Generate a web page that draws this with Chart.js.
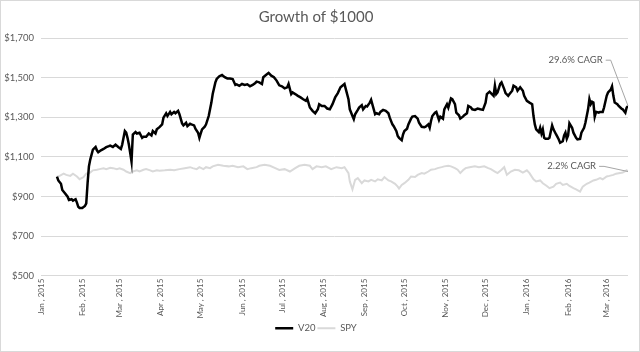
<!DOCTYPE html>
<html>
<head>
<meta charset="utf-8">
<script src="https://cdn.jsdelivr.net/npm/chart.js@4.4.0/dist/chart.umd.min.js"></script>
<style>
    html, body { margin: 0; padding: 0; background: #fff; }
    #wrap { width: 640px; height: 352px; position: relative; }
</style>
</head>
<body>
<div id="wrap"><canvas id="chart"></canvas></div>
<script>
// days counted from Jan 1, 2015
const monthTicks = [0, 31, 59, 90, 120, 151, 181, 212, 243, 273, 304, 334, 365, 396, 425];
const monthLabels = ['Jan , 2015', 'Feb , 2015', 'Mar , 2015', 'Apr , 2015', 'May , 2015', 'Jun , 2015',
    'Jul , 2015', 'Aug , 2015', 'Sep , 2015', 'Oct , 2015', 'Nov , 2015', 'Dec , 2015',
    'Jan , 2016', 'Feb , 2016', 'Mar , 2016'];

const v20Days = [
    12, 13, 15, 16, 18, 20, 21, 23, 24, 26,
    27, 28, 29, 31, 33, 34, 35, 36, 37, 38,
    39, 41, 42, 43, 45, 47, 49, 51, 52, 54,
    56, 58, 60, 61, 63, 64, 65, 66, 67, 68,
    69, 71, 72, 74, 76, 77, 79, 81, 83, 84,
    86, 87, 89, 91, 92, 94, 95, 97, 98, 100,
    101, 103, 104, 106, 107, 109, 110, 112, 113, 115,
    116, 118, 119, 120, 121, 123, 124, 126, 127, 128,
    129, 131, 132, 134, 136, 138, 140, 142, 144, 146,
    147, 149, 151, 153, 155, 157, 159, 161, 162, 164,
    166, 167, 169, 171, 173, 175, 177, 179, 181, 183,
    185, 186, 188, 189, 191, 193, 195, 197, 199, 200,
    202, 204, 206, 208, 209, 211, 213, 215, 217, 219,
    221, 223, 225, 228, 229, 231, 232, 234, 235, 236,
    238, 239, 241, 242, 244, 245, 247, 248, 250, 251,
    252, 254, 255, 257, 259, 261, 262, 264, 265, 267,
    268, 269, 271, 272, 273, 275, 276, 278, 279, 281,
    283, 284, 286, 288, 289, 291, 292, 293, 294, 296,
    297, 299, 300, 302, 303, 305, 306, 308, 309, 311,
    312, 314, 315, 317, 318, 320, 321, 323, 324, 326,
    328, 330, 332, 334, 335, 337, 338, 340, 341, 342,
    343, 345, 346, 348, 349, 351, 352, 354, 355, 357,
    358, 360, 362, 363, 365, 367, 369, 370, 371, 372,
    374, 375, 376, 377, 378, 379, 381, 382, 384, 385,
    387, 388, 389, 390, 392, 393, 394, 395, 396, 397,
    399, 400, 402, 403, 405, 406, 408, 409, 411, 412,
    413, 414, 415, 416, 417, 419, 420, 422, 423, 425,
    426, 428, 429, 430, 431, 433, 434, 436, 437, 439,
    440, 441
];
const v20Values = [
    1000, 981, 964, 933, 916, 899, 882, 886, 879, 886,
    869, 848, 842, 842, 852, 865, 967, 1052, 1086, 1111,
    1137, 1150, 1133, 1123, 1133, 1140, 1149, 1154, 1157, 1150,
    1162, 1150, 1140, 1162, 1230, 1222, 1196, 1162, 1120, 1076,
    1213, 1225, 1218, 1222, 1196, 1201, 1201, 1218, 1208, 1230,
    1218, 1239, 1250, 1264, 1298, 1320, 1306, 1327, 1315, 1327,
    1320, 1332, 1315, 1269, 1259, 1272, 1255, 1267, 1264, 1259,
    1242, 1222, 1196, 1218, 1239, 1252, 1264, 1306, 1340, 1374,
    1417, 1476, 1493, 1507, 1513, 1502, 1496, 1496, 1493, 1463,
    1466, 1459, 1468, 1463, 1466, 1456, 1463, 1473, 1480, 1476,
    1468, 1502, 1513, 1524, 1510, 1502, 1485, 1461, 1456, 1446,
    1451, 1468, 1417, 1425, 1417, 1408, 1400, 1391, 1383, 1395,
    1349, 1332, 1320, 1340, 1366, 1357, 1357, 1344, 1340, 1366,
    1400, 1422, 1451, 1468, 1442, 1391, 1340, 1306, 1290, 1315,
    1337, 1349, 1361, 1340, 1357, 1354, 1374, 1388, 1340, 1315,
    1320, 1315, 1327, 1337, 1332, 1320, 1298, 1264, 1255, 1230,
    1205, 1196, 1184, 1213, 1230, 1242, 1264, 1293, 1303, 1306,
    1293, 1272, 1252, 1250, 1252, 1264, 1247, 1281, 1306, 1323,
    1327, 1286, 1303, 1293, 1340, 1366, 1349, 1395, 1391, 1366,
    1323, 1310, 1293, 1303, 1310, 1320, 1357, 1349, 1340, 1337,
    1344, 1340, 1337, 1374, 1417, 1429, 1422, 1408, 1459, 1417,
    1425, 1468, 1476, 1442, 1422, 1408, 1417, 1434, 1459, 1451,
    1434, 1451, 1434, 1408, 1383, 1374, 1366, 1306, 1264, 1239,
    1225, 1247, 1218, 1239, 1196, 1191, 1191, 1196, 1259, 1239,
    1213, 1201, 1188, 1171, 1179, 1208, 1222, 1191, 1208, 1269,
    1247, 1222, 1196, 1188, 1191, 1222, 1247, 1272, 1340, 1391,
    1366, 1378, 1374, 1303, 1327, 1323, 1327, 1327, 1349, 1408,
    1425, 1439, 1456, 1408, 1374, 1366, 1357, 1344, 1340, 1323,
    1349, 1357
];

const spyDays = [
    12, 14, 17, 19, 22, 24, 27, 29, 32, 34,
    37, 39, 42, 44, 47, 49, 52, 54, 57, 59,
    62, 64, 67, 69, 72, 74, 77, 79, 82, 84,
    87, 89, 93, 97, 100, 104, 108, 112, 114, 117,
    119, 122, 124, 127, 129, 133, 137, 141, 144, 148,
    152, 155, 158, 162, 164, 168, 172, 176, 179, 183,
    187, 191, 194, 198, 202, 204, 207, 211, 214, 218,
    222, 226, 228, 231, 232, 234, 236, 238, 241, 243,
    246, 248, 251, 253, 256, 258, 261, 263, 266, 268,
    269, 271, 273, 276, 278, 281, 283, 286, 288, 291,
    293, 296, 298, 301, 303, 306, 308, 311, 313, 315,
    317, 319, 322, 326, 329, 333, 336, 338, 341, 343,
    346, 348, 350, 353, 356, 359, 362, 365, 367, 370,
    372, 375, 377, 380, 382, 385, 387, 390, 392, 395,
    397, 400, 402, 405, 407, 410, 412, 415, 417, 420,
    422, 425, 427, 430, 432, 435, 437, 440, 441
];
const spyValues = [
    1000, 1004, 1015, 1009, 1004, 1015, 1001, 987, 998, 1015,
    1021, 1032, 1035, 1038, 1042, 1038, 1045, 1043, 1038, 1042,
    1035, 1026, 1018, 1026, 1032, 1026, 1035, 1038, 1032, 1026,
    1032, 1030, 1032, 1035, 1032, 1038, 1043, 1048, 1043, 1038,
    1048, 1038, 1048, 1043, 1052, 1060, 1055, 1052, 1055, 1048,
    1052, 1038, 1043, 1048, 1055, 1060, 1055, 1043, 1034, 1038,
    1026, 1043, 1055, 1060, 1055, 1038, 1052, 1048, 1052, 1038,
    1048, 1043, 1048, 1018, 976, 936, 984, 993, 967, 981,
    976, 984, 976, 987, 981, 998, 981, 976, 964, 950,
    940, 958, 967, 984, 1001, 998, 1009, 1018, 1015, 1026,
    1035, 1038, 1043, 1048, 1052, 1055, 1052, 1043, 1035, 1018,
    1032, 1043, 1048, 1052, 1048, 1052, 1043, 1038, 1026, 1018,
    1035, 1048, 1009, 1026, 1035, 1032, 1021, 1032, 1018, 987,
    976, 981, 967, 953, 942, 950, 964, 970, 958, 964,
    953, 942, 936, 925, 950, 964, 970, 981, 984, 993,
    987, 1001, 1004, 1009, 1015, 1018, 1021, 1032, 1026
];

const seriesNames = ['V20', 'SPY'];
const seriesColors = ['#000000', '#d9d9d9'];

// text labels placed next to the end of each line
const cagrNotes = [
    { text: '29.6% CAGR', series: 0, day: 422, value: 1588 },
    { text: '2.2% CAGR', series: 1, day: 417, value: 1052 }
];

const FONT = 'Lato, "Open Sans", sans-serif';
const TEXT_GREY = '#595959';

function toPoints(days, values) {
    return days.map((d, i) => ({ x: d, y: values[i] }));
}

function money(v) {
    return '$' + String(v).replace(/\B(?=(\d{3})+(?!\d))/g, ',');
}

const frame = {
    id: 'frame',
    beforeDraw(chart) {
        const ctx = chart.ctx;
        ctx.save();
        ctx.fillStyle = '#fff';
        ctx.fillRect(0, 0, chart.width, chart.height);
        ctx.restore();
    },
    afterDraw(chart) {
        const ctx = chart.ctx;
        ctx.save();
        ctx.strokeStyle = '#d9d9d9';
        ctx.lineWidth = 1;
        ctx.strokeRect(0.5, 0.5, chart.width - 1, chart.height - 1);
        ctx.restore();
    }
};

const cagrLabels = {
    id: 'cagrLabels',
    afterDatasetsDraw(chart) {
        const ctx = chart.ctx;
        const xs = chart.scales.x;
        const ys = chart.scales.y;
        ctx.save();
        ctx.font = '9.5px ' + FONT;
        ctx.fillStyle = TEXT_GREY;
        ctx.textAlign = 'right';
        ctx.textBaseline = 'middle';
        cagrNotes.forEach(note => {
            const tx = xs.getPixelForValue(note.day);
            const ty = ys.getPixelForValue(note.value);
            ctx.fillText(note.text, tx, ty);
            const pts = chart.getDatasetMeta(note.series).data;
            const last = pts[pts.length - 1];
            ctx.strokeStyle = '#a6a6a6';
            ctx.lineWidth = 1;
            ctx.beginPath();
            ctx.moveTo(tx + 3, ty);
            ctx.lineTo(tx + 8, ty);
            ctx.lineTo(last.x, last.y);
            ctx.stroke();
        });
        ctx.restore();
    }
};

new Chart(document.getElementById('chart'), {
    type: 'line',
    data: {
        datasets: [
            {
                label: seriesNames[0],
                data: toPoints(v20Days, v20Values),
                borderColor: seriesColors[0],
                backgroundColor: seriesColors[0],
                borderWidth: 2.5,
                pointRadius: 0,
                tension: 0
            },
            {
                label: seriesNames[1],
                data: toPoints(spyDays, spyValues),
                borderColor: seriesColors[1],
                backgroundColor: seriesColors[1],
                borderWidth: 2,
                pointRadius: 0,
                tension: 0
            }
        ]
    },
    options: {
        responsive: true,
        maintainAspectRatio: false,
        animation: false,
        devicePixelRatio: 1,
        layout: { padding: { left: 4, right: 12, top: 0, bottom: 9 } },
        scales: {
            x: {
                type: 'linear',
                min: 0,
                max: 441,
                afterBuildTicks: scale => {
                    scale.ticks = monthTicks.map(v => ({ value: v }));
                },
                ticks: {
                    autoSkip: false,
                    minRotation: 90,
                    maxRotation: 90,
                    padding: 3,
                    color: TEXT_GREY,
                    font: { family: FONT, size: 8 },
                    callback: (v, i) => monthLabels[i]
                },
                grid: { display: false, drawTicks: false },
                border: { display: false }
            },
            y: {
                min: 500,
                max: 1700,
                afterFit: scale => { scale.width = 37; },
                ticks: {
                    stepSize: 200,
                    padding: 7,
                    color: TEXT_GREY,
                    font: { family: FONT, size: 9.5 },
                    callback: v => money(v)
                },
                grid: { color: '#d9d9d9', drawTicks: false },
                border: { display: false }
            }
        },
        plugins: {
            title: {
                display: true,
                text: 'Growth of $1000',
                color: TEXT_GREY,
                font: { family: FONT, size: 15, weight: 'normal' },
                padding: { top: 8, bottom: 12 }
            },
            legend: {
                position: 'bottom',
                labels: {
                    usePointStyle: true,
                    pointStyle: 'line',
                    pointStyleWidth: 18,
                    color: TEXT_GREY,
                    font: { family: FONT, size: 9.5 },
                    padding: 2
                }
            },
            tooltip: { enabled: false }
        }
    },
    plugins: [frame, cagrLabels]
});
</script>
</body>
</html>
